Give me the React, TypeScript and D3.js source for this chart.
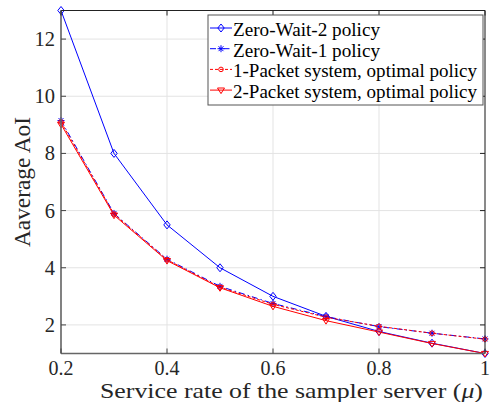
import React from "react";
import * as d3 from "d3";

// service rate values (x) and average AoI per policy
const mu = [0.2, 0.3, 0.4, 0.5, 0.6, 0.7, 0.8, 0.9, 1.0];
const zeroWait2 = [13, 8, 5.5, 4, 3, 2.3, 1.77, 1.36, 1.0];
const zeroWait1 = [9.15, 5.9, 4.3, 3.35, 2.75, 2.29, 1.94, 1.71, 1.51];
const onePacket = [9.1, 5.88, 4.28, 3.32, 2.72, 2.27, 1.95, 1.71, 1.5];
const twoPacket = [9.02, 5.84, 4.25, 3.3, 2.65, 2.15, 1.75, 1.35, 1.0];

const xTicks = [0.2, 0.4, 0.6, 0.8, 1];
const yTicks = [2, 4, 6, 8, 10, 12];

const seriesNames = [
  "Zero-Wait-2 policy",
  "Zero-Wait-1 policy",
  "1-Packet system, optimal policy",
  "2-Packet system, optimal policy",
];

const width = 490;
const height = 402;
const left = 61;
const right = 485;
const top = 10.5;
const bottom = 353.5;

const x = d3.scaleLinear().domain([0.2, 1]).range([left, right]);
const y = d3.scaleLinear().domain([1, 13]).range([bottom, top]);

const font = "'Times New Roman', 'Liberation Serif', Times, serif";

type Marker = "diamond" | "star" | "circle" | "triangle";

function drawMarker(kind: Marker, cx: number, cy: number, color: string, key: string) {
  if (kind === "diamond") {
    const s = 4;
    return (
      <path
        key={key}
        d={`M${cx},${cy - s}L${cx + s * 0.8},${cy}L${cx},${cy + s}L${cx - s * 0.8},${cy}Z`}
        fill="none"
        stroke={color}
        strokeWidth={1}
      />
    );
  }
  if (kind === "star") {
    const s = 3.5;
    const d = s * 0.7;
    return (
      <path
        key={key}
        d={`M${cx - s},${cy}L${cx + s},${cy}M${cx},${cy - s}L${cx},${cy + s}M${cx - d},${cy - d}L${cx + d},${cy + d}M${cx - d},${cy + d}L${cx + d},${cy - d}`}
        stroke={color}
        strokeWidth={1}
      />
    );
  }
  if (kind === "circle") {
    return <circle key={key} cx={cx} cy={cy} r={2.3} fill="none" stroke={color} strokeWidth={1} />;
  }
  const s = 3.5;
  return (
    <path
      key={key}
      d={`M${cx - s},${cy - s * 0.6}L${cx + s},${cy - s * 0.6}L${cx},${cy + s}Z`}
      fill="none"
      stroke={color}
      strokeWidth={1}
    />
  );
}

const series = [
  { name: seriesNames[0], values: zeroWait2, color: "#0000ff", dash: "", marker: "diamond" as Marker, len: 147 },
  { name: seriesNames[1], values: zeroWait1, color: "#0000ff", dash: "6,3,1.5,3", marker: "star" as Marker, len: 147 },
  { name: seriesNames[2], values: onePacket, color: "#ff0000", dash: "3,2", marker: "circle" as Marker, len: 244 },
  { name: seriesNames[3], values: twoPacket, color: "#ff0000", dash: "", marker: "triangle" as Marker, len: 244 },
];

export default function App() {
  const line = d3
    .line<number>()
    .x((_, i) => x(mu[i]))
    .y((d) => y(d));

  const legX = 208;
  const legY = 15;
  const legW = 275;
  const legH = 90;
  const rowH = 20.7;

  return (
    <svg
      width={width}
      height={height}
      style={{ position: "absolute", left: 0, top: 0, background: "#fff" }}
    >
      <rect x={0} y={0} width={width} height={height} fill="#fff" />
      {/* grid */}
      {xTicks.map((t) => (
        <line key={"gx" + t} x1={x(t)} x2={x(t)} y1={top} y2={bottom} stroke="#e3e3e3" strokeWidth={1} />
      ))}
      {yTicks.map((t) => (
        <line key={"gy" + t} x1={left} x2={right} y1={y(t)} y2={y(t)} stroke="#e3e3e3" strokeWidth={1} />
      ))}

      {/* series */}
      {series.map((s, si) => (
        <g key={s.name}>
          <path d={line(s.values) || ""} fill="none" stroke={s.color} strokeWidth={1} strokeDasharray={s.dash} />
          {s.values.map((v, i) => drawMarker(s.marker, x(mu[i]), y(v), s.color, `m${si}-${i}`))}
        </g>
      ))}

      {/* frame */}
      <line x1={left} x2={right} y1={top} y2={top} stroke="#222" strokeWidth={1} />
      <line x1={right} x2={right} y1={top} y2={bottom} stroke="#222" strokeWidth={1} />
      <line x1={left} x2={left} y1={top} y2={bottom} stroke="#666" strokeWidth={1.6} />
      <line x1={left} x2={right} y1={bottom} y2={bottom} stroke="#666" strokeWidth={1.6} />

      {/* ticks */}
      {xTicks.map((t) => (
        <g key={"tx" + t}>
          <line x1={x(t)} x2={x(t)} y1={bottom} y2={bottom - 5} stroke="#444" />
          <line x1={x(t)} x2={x(t)} y1={top} y2={top + 5} stroke="#222" />
          <text
            x={x(t)}
            y={375}
            textAnchor="middle"
            fontFamily={font}
            fontSize={20}
            fill="#262626"
          >
            {d3.format("~g")(t)}
          </text>
        </g>
      ))}
      {yTicks.map((t) => (
        <g key={"ty" + t}>
          <line x1={left} x2={left + 5} y1={y(t)} y2={y(t)} stroke="#444" />
          <line x1={right} x2={right - 5} y1={y(t)} y2={y(t)} stroke="#222" />
          <text
            x={55}
            y={y(t) + 7}
            textAnchor="end"
            fontFamily={font}
            fontSize={20.5}
            fill="#262626"
          >
            {t}
          </text>
        </g>
      ))}

      {/* axis labels */}
      <text
        x={100}
        y={398}
        fontFamily={font}
        fontSize={21.5}
        fill="#262626"
        textLength={383}
        lengthAdjust="spacingAndGlyphs"
      >
        Service rate of the sampler server (<tspan fontStyle="italic">μ</tspan>)
      </text>
      <text
        transform={`translate(30,182) rotate(-90)`}
        x={-65}
        fontFamily={font}
        fontSize={23}
        fill="#262626"
        textLength={130}
        lengthAdjust="spacingAndGlyphs"
      >
        Aaverage AoI
      </text>

      {/* legend */}
      <rect x={legX} y={legY} width={legW} height={legH} fill="#fff" stroke="#555" strokeWidth={1} />
      {series.map((s, i) => {
        const cy = legY + 13 + i * rowH;
        return (
          <g key={"leg" + i}>
            <line
              x1={legX + 2}
              x2={legX + 24}
              y1={cy}
              y2={cy}
              stroke={s.color}
              strokeWidth={1}
              strokeDasharray={s.dash}
            />
            {drawMarker(s.marker, legX + 13, cy, s.color, "lm" + i)}
            <text
              x={233}
              y={cy + 8}
              fontFamily={font}
              fontSize={18}
              fill="#000"
              textLength={s.len}
              lengthAdjust="spacingAndGlyphs"
            >
              {s.name}
            </text>
          </g>
        );
      })}
    </svg>
  );
}
